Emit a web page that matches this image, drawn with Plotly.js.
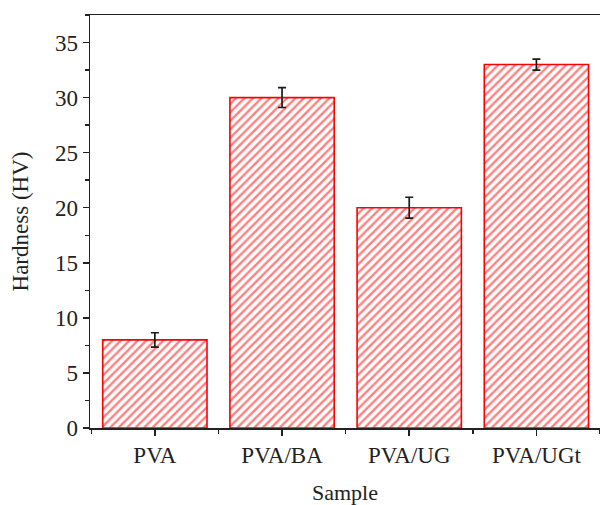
<!DOCTYPE html>
<html>
<head>
<meta charset="utf-8">
<script src="https://cdn.plot.ly/plotly-3.0.1.min.js"></script>
<style>html,body{margin:0;padding:0;background:#fff;overflow:hidden;}#chart{width:600px;height:505px;}</style>
</head>
<body>
<div id="chart"></div>
<script>
const categories = ["PVA", "PVA/BA", "PVA/UG", "PVA/UGt"];
const hardness = [8.0, 30.0, 20.0, 33.0];
const hardnessErr = [0.65, 0.9, 0.95, 0.5];
const yTickVals = [0, 5, 10, 15, 20, 25, 30, 35];

const xPos = categories.map((c, i) => i);

const trace = {
  type: 'bar',
  x: xPos,
  y: hardness,
  width: 0.82,
  marker: {
    color: '#ffffff',
    line: {color: '#ff0000', width: 1.6},
    pattern: {shape: '/', fgcolor: '#ff0000', bgcolor: '#ffffff', size: 6, solidity: 0.4, fillmode: 'overlay'}
  },
  error_y: {type: 'data', array: hardnessErr, visible: true, color: '#1a1a1a', thickness: 1.7, width: 4},
  hoverinfo: 'skip'
};

const fontFam = '"Liberation Serif", "Times New Roman", serif';
const txtColor = '#222222';

const layout = {
  width: 600,
  height: 505,
  margin: {l: 90, r: 0, t: 15, b: 77},
  paper_bgcolor: '#ffffff',
  plot_bgcolor: '#ffffff',
  showlegend: false,
  font: {family: fontFam, size: 23, color: txtColor},
  xaxis: {
    type: 'linear',
    range: [-0.51, 3.5],
    tickvals: xPos,
    ticktext: categories,
    showgrid: false,
    zeroline: false,
    showline: true,
    linecolor: '#222222',
    linewidth: 1.5,
    mirror: true,
    ticks: 'outside',
    ticklen: 6,
    tickwidth: 1.5,
    tickcolor: '#222222',
    tickfont: {family: fontFam, size: 23, color: txtColor},
    minor: {dtick: 1, tick0: 0.5, ticks: 'outside', ticklen: 4, tickwidth: 1.5, tickcolor: '#222222', showgrid: false},
    title: {text: 'Sample', font: {family: fontFam, size: 22, color: txtColor}, standoff: 20}
  },
  yaxis: {
    range: [0, 37.5],
    tickvals: yTickVals,
    showgrid: false,
    zeroline: false,
    showline: true,
    linecolor: '#222222',
    linewidth: 1.5,
    mirror: false,
    ticks: 'outside',
    ticklen: 6,
    tickwidth: 1.5,
    tickcolor: '#222222',
    tickfont: {family: fontFam, size: 23, color: txtColor},
    minor: {dtick: 2.5, tick0: 0, ticks: 'outside', ticklen: 4, tickwidth: 1.5, tickcolor: '#222222', showgrid: false},
    title: {text: 'Hardness (HV)', font: {family: fontFam, size: 23, color: txtColor}, standoff: 20}
  }
};

Plotly.newPlot('chart', [trace], layout, {displayModeBar: false, staticPlot: true});
</script>
</body>
</html>
